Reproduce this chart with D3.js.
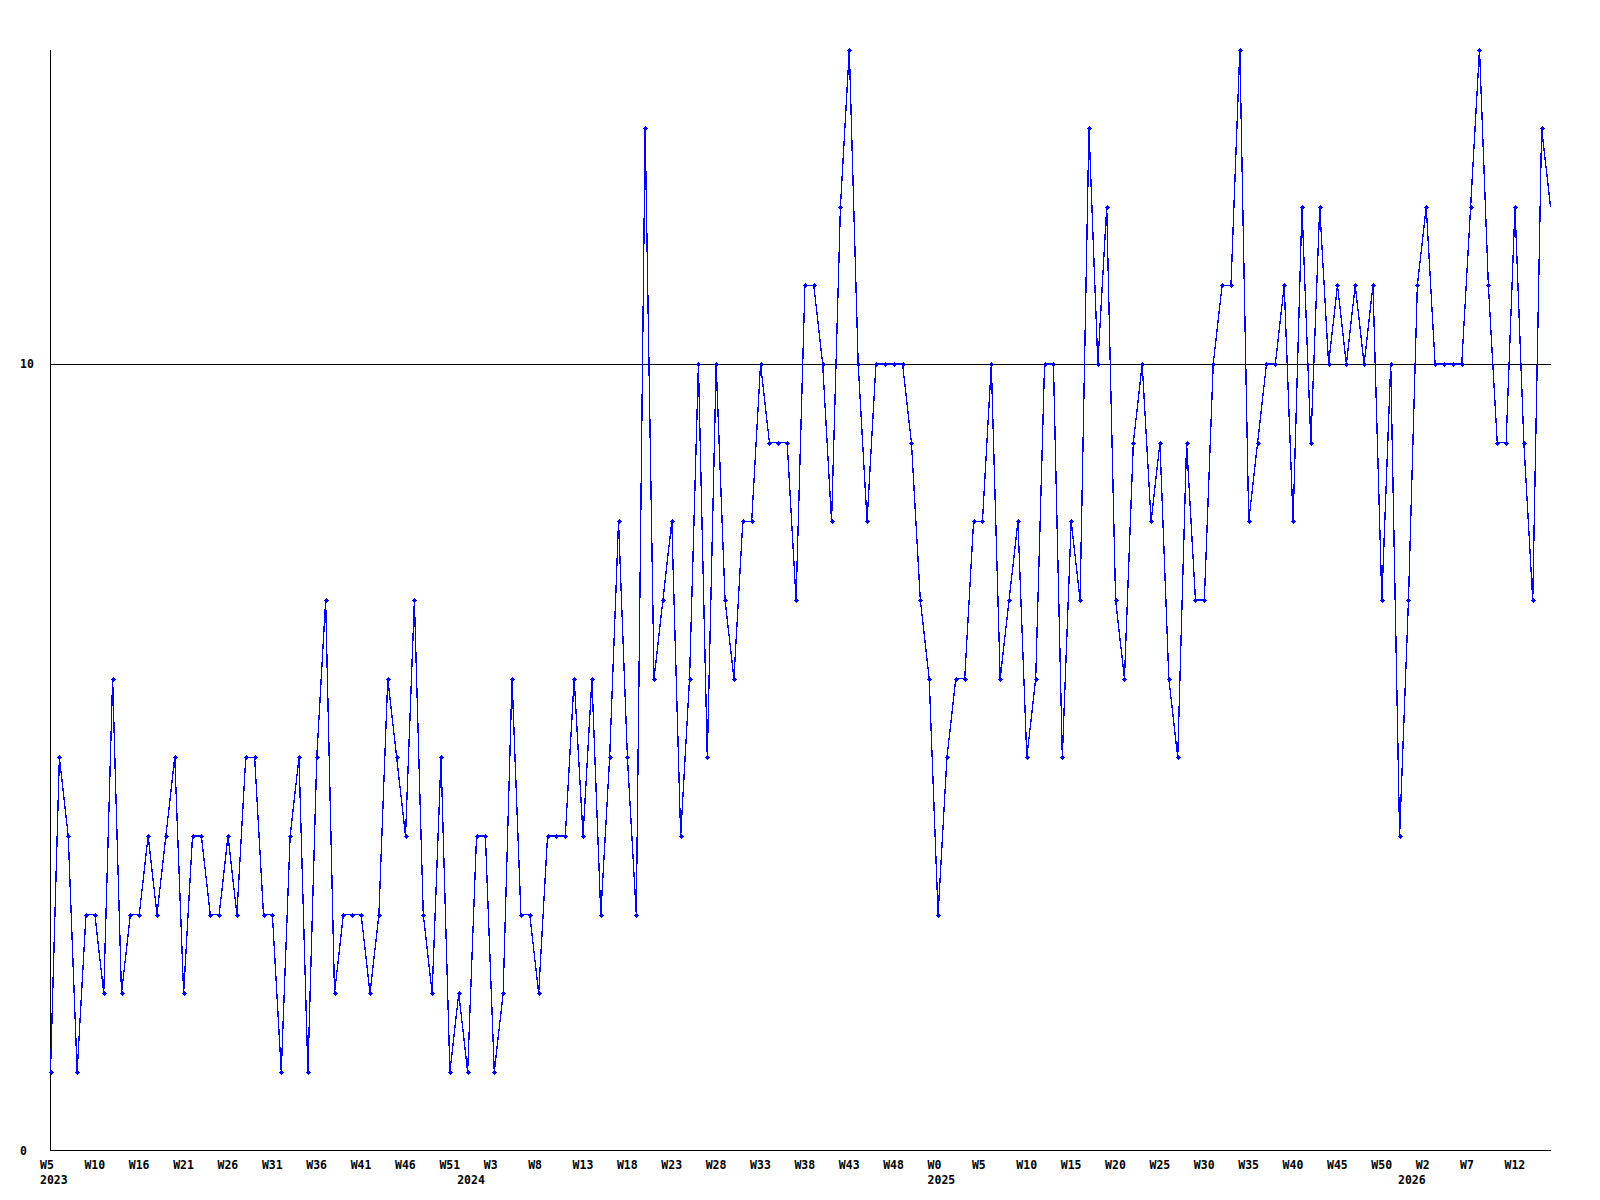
<!DOCTYPE html>
<html>
<head>
<meta charset="utf-8">
<script src="https://cdn.jsdelivr.net/npm/d3@7"></script>
<style>
  body { margin: 0; background: #fff; }
  text { font-family: "DejaVu Sans Mono", "Liberation Mono", monospace; font-weight: bold; font-size: 11.5px; fill: #000; }
</style>
</head>
<body>
<div id="chart"></div>
<script>
// weekly counts, one per point (2023 W5 .. 2026 W16)
var values = [
  1, 5, 4, 1, 3, 3, 2, 6, 2, 3,
  3, 4, 3, 4, 5, 2, 4, 4, 3, 3,
  4, 3, 5, 5, 3, 3, 1, 4, 5, 1,
  5, 7, 2, 3, 3, 3, 2, 3, 6, 5,
  4, 7, 3, 2, 5, 1, 2, 1, 4, 4,
  1, 2, 6, 3, 3, 2, 4, 4, 4, 6,
  4, 6, 3, 5, 8, 5, 3, 13, 6, 7,
  8, 4, 6, 10, 5, 10, 7, 6, 8, 8,
  10, 9, 9, 9, 7, 11, 11, 10, 8, 12,
  14, 10, 8, 10, 10, 10, 10, 9, 7, 6,
  3, 5, 6, 6, 8, 8, 10, 6, 7, 8,
  5, 6, 10, 10, 5, 8, 7, 13, 10, 12,
  7, 6, 9, 10, 8, 9, 6, 5, 9, 7,
  7, 10, 11, 11, 14, 8, 9, 10, 10, 11,
  8, 12, 9, 12, 10, 11, 10, 11, 10, 11,
  7, 10, 4, 7, 11, 12, 10, 10, 10, 10,
  12, 14, 11, 9, 9, 12, 9, 7, 13, 12
];

// x labels, one every 5 points
var tick_labels = ["W5", "W10", "W16", "W21", "W26", "W31", "W36", "W41", "W46", "W51",
                   "W3", "W8", "W13", "W18", "W23", "W28", "W33", "W38", "W43", "W48",
                   "W0", "W5", "W10", "W15", "W20", "W25", "W30", "W35", "W40", "W45",
                   "W50", "W2", "W7", "W12"];
var tick_every = 5;

// first point of each year
var year_names  = ["2023", "2024", "2025", "2026"];
var year_starts = [0, 47, 100, 153];

var y_ticks = [0, 10];
var y_max = 14;

var chart_width  = 1600;
var chart_height = 1200;

var svg = d3.select("#chart")
    .append("svg")
    .attr("width", chart_width)
    .attr("height", chart_height);

var x = d3.scaleLinear()
    .domain([0, values.length - 1])
    .range([50.5, 1550.5]);

var y = d3.scaleLinear()
    .domain([0, y_max])
    .range([1150.5, 49.5]);

// grid line at 10
svg.selectAll('line.grid')
    .data(y_ticks.filter(function(d){ return d > 0; }))
    .enter()
    .append('line')
    .attr('class', 'grid')
    .attr('x1', x(0)).attr('x2', x(values.length - 1))
    .attr('y1', function(d){ return Math.round(y(d)) + 0.5; })
    .attr('y2', function(d){ return Math.round(y(d)) + 0.5; })
    .attr('stroke', '#000')
    .attr('stroke-width', 1)
    .attr('shape-rendering', 'crispEdges');

// axes lines
svg.append('line')
    .attr('x1', x(0)).attr('x2', x(0))
    .attr('y1', y(y_max)).attr('y2', y(0))
    .attr('stroke', '#000').attr('shape-rendering', 'crispEdges');
svg.append('line')
    .attr('x1', x(0)).attr('x2', x(values.length - 1))
    .attr('y1', y(0)).attr('y2', y(0))
    .attr('stroke', '#000').attr('shape-rendering', 'crispEdges');

// y labels
svg.selectAll('text.ylab')
    .data(y_ticks)
    .enter()
    .append('text')
    .attr('class', 'ylab')
    .attr('x', 20)
    .attr('y', function(d){ return y(d) + 4; })
    .text(function(d){ return d; });

// x labels (left aligned, slightly before the point)
svg.selectAll('text.xlab')
    .data(tick_labels)
    .enter()
    .append('text')
    .attr('class', 'xlab')
    .attr('x', function(d, i){ return x(i * tick_every) - 10.5; })
    .attr('y', 1168.5)
    .text(function(d){ return d; });

svg.selectAll('text.year')
    .data(year_names)
    .enter()
    .append('text')
    .attr('class', 'year')
    .attr('x', function(d, i){ return x(year_starts[i]) - 10.5; })
    .attr('y', 1184)
    .text(function(d){ return d; });

// the series
var line = d3.line()
    .x(function(d, i){ return x(i); })
    .y(function(d){ return y(d); });

svg.append('path')
    .datum(values)
    .attr('d', line)
    .attr('fill', 'none')
    .attr('stroke', '#0000ff')
    .attr('stroke-width', 1.3)
    .attr('shape-rendering', 'crispEdges');

svg.append('clipPath')
    .attr('id', 'markclip')
    .append('rect')
    .attr('x', 0).attr('y', 0)
    .attr('width', 1549).attr('height', chart_height);

// small plus markers
var marks = svg.append('g')
    .attr('clip-path', 'url(#markclip)')
    .selectAll('g')
    .data(values)
    .enter()
    .append('g')
    .attr('transform', function(d, i){ return 'translate(' + Math.round(x(i)) + ',' + Math.round(y(d)) + ')'; })
    .attr('fill', '#0000ff');

marks.append('rect')
    .attr('x', -2).attr('y', 0)
    .attr('width', 5).attr('height', 1);
marks.append('rect')
    .attr('x', -1).attr('y', -1)
    .attr('width', 3).attr('height', 3);
marks.append('rect')
    .attr('x', 0).attr('y', -2)
    .attr('width', 1).attr('height', 5);
</script>
</body>
</html>
